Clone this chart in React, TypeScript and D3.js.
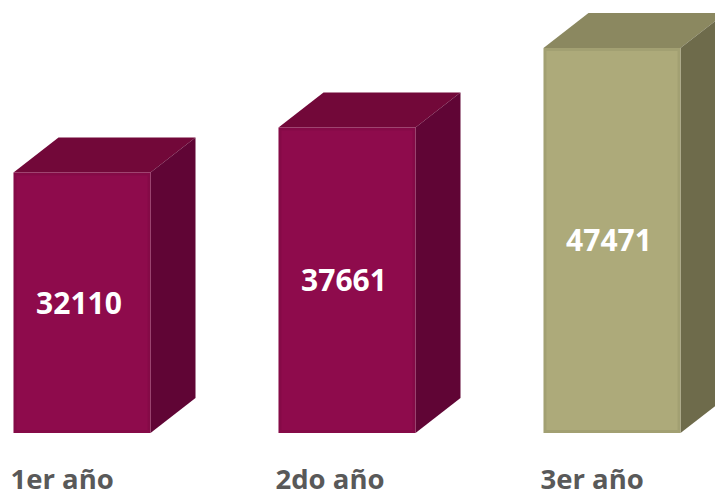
import React from 'react';
import * as d3 from 'd3';

const categories = ['1er año', '2do año', '3er año'];
const values = [32110, 37661, 47471];
const frontColors = ['#8E0B4C', '#8E0B4C', '#ADAA7A'];
const topColors = ['#720839', '#720839', '#8B8860'];
const sideColors = ['#600535', '#600535', '#6E6B4B'];

const W = 715;
const H = 500;
const depthX = 45;
const depthY = 35;

const App: React.FC = () => {
  const x = d3.scaleBand<string>()
    .domain(categories)
    .range([13.5, 680.5])
    .paddingInner(0.483)
    .paddingOuter(0);

  const y = d3.scaleLinear()
    .domain([0, 50000])
    .range([433, 27.5]);

  const bw = x.bandwidth();
  const y0 = y(0);

  return (
    <svg width={W} height={H} style={{ position: 'absolute', left: 0, top: 0 }}
      fontFamily="'Open Sans', sans-serif">
      {categories.map((c, i) => {
        const x0 = x(c) as number;
        const x1 = x0 + bw;
        const yt = y(values[i]);
        const front = `M${x0},${yt}L${x1},${yt}L${x1},${y0}L${x0},${y0}Z`;
        const top = `M${x0},${yt}L${x0 + depthX},${yt - depthY}L${x1 + depthX},${yt - depthY}L${x1},${yt}Z`;
        const side = `M${x1},${yt}L${x1 + depthX},${yt - depthY}L${x1 + depthX},${y0 - depthY}L${x1},${y0}Z`;
        return (
          <g key={c}>
            <path d={top} fill={topColors[i]} />
            <path d={side} fill={sideColors[i]} />
            <path d={front} fill={frontColors[i]} />
            <rect x={x0 + 1.5} y={yt + 1.5} width={bw - 3} height={y0 - yt - 3}
              fill="none" stroke="#000" strokeOpacity={0.06} strokeWidth={3} />
            <text
              x={x0 + bw / 2 - 3}
              y={(yt + y0) / 2}
              dy="0.36em"
              textAnchor="middle"
              fill="#fff"
              fontWeight="bold"
              fontSize={30}
            >
              {values[i]}
            </text>
            <text
              x={x0 - 3}
              y={489}
              fill="#595959"
              fontWeight="bold"
              fontSize={27.5}
            >
              {c}
            </text>
          </g>
        );
      })}
    </svg>
  );
};

export default App;
